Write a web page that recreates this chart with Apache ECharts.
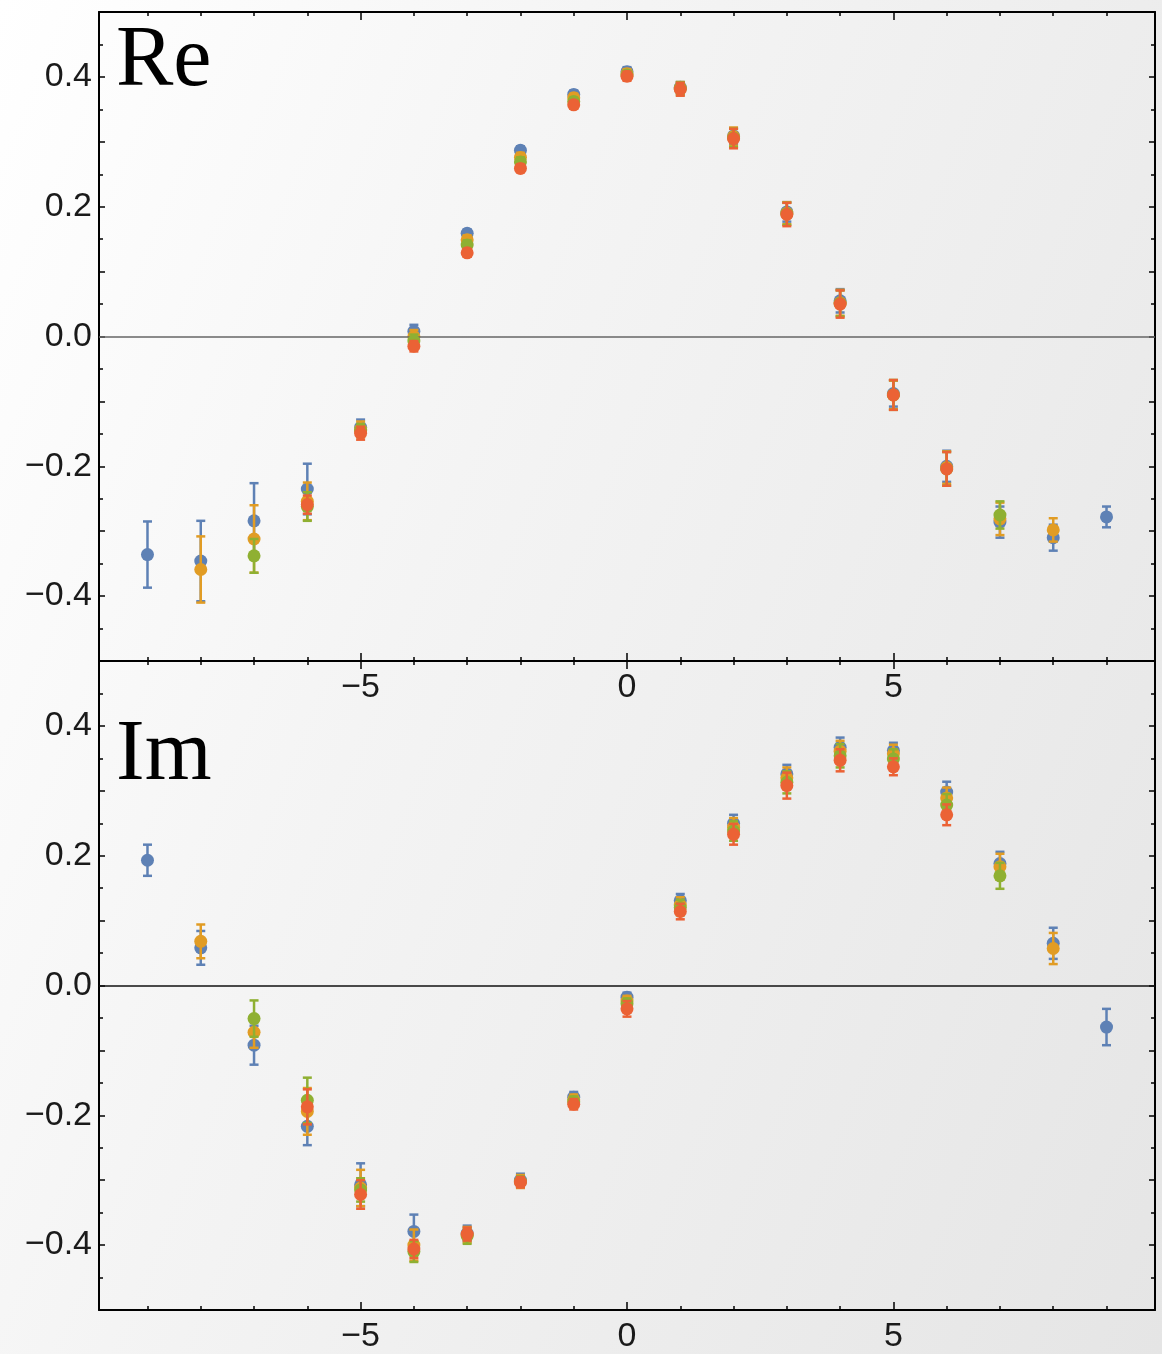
<!DOCTYPE html>
<html>
<head>
<meta charset="utf-8">
<script src="https://cdn.jsdelivr.net/npm/echarts@6/dist/echarts.min.js"></script>
<style>
html,body{margin:0;padding:0;}
body{width:1162px;height:1354px;background:linear-gradient(112deg,#ffffff 0%,#f4f4f4 38%,#e5e5e5 100%);}
#chart{width:1162px;height:1354px;}
</style>
</head>
<body>
<div id="chart"></div>
<script>
// ---- data ----
const xBlue   = [-9,-8,-7,-6,-5,-4,-3,-2,-1,0,1,2,3,4,5,6,7,8,9];
const xOrange = [-8,-7,-6,-5,-4,-3,-2,-1,0,1,2,3,4,5,6,7,8];
const xGreen  = [-7,-6,-5,-4,-3,-2,-1,0,1,2,3,4,5,6,7];
const xRed    = [-6,-5,-4,-3,-2,-1,0,1,2,3,4,5,6];

const reBlue    = [-0.336,-0.346,-0.284,-0.235,-0.140,0.008,0.159,0.287,0.373,0.408,0.384,0.309,0.192,0.055,-0.088,-0.200,-0.286,-0.310,-0.278];
const reBlueErr = [0.051,0.062,0.058,0.039,0.012,0.010,0.006,0.006,0.006,0.007,0.008,0.012,0.015,0.018,0.020,0.024,0.024,0.020,0.016];
const reOrange    = [-0.359,-0.312,-0.254,-0.143,0.000,0.149,0.276,0.368,0.405,0.383,0.308,0.190,0.052,-0.090,-0.202,-0.281,-0.298];
const reOrangeErr = [0.051,0.052,0.029,0.012,0.010,0.007,0.007,0.006,0.007,0.009,0.014,0.017,0.020,0.022,0.025,0.025,0.018];
const reGreen    = [-0.338,-0.262,-0.145,-0.007,0.141,0.269,0.362,0.403,0.382,0.306,0.189,0.051,-0.090,-0.204,-0.275];
const reGreenErr = [0.026,0.022,0.010,0.010,0.007,0.007,0.006,0.006,0.010,0.014,0.017,0.020,0.023,0.026,0.021];
const reRed    = [-0.259,-0.149,-0.015,0.129,0.259,0.357,0.401,0.381,0.305,0.188,0.050,-0.090,-0.204];
const reRedErr = [0.014,0.010,0.008,0.006,0.006,0.006,0.007,0.010,0.015,0.018,0.021,0.023,0.026];

const imBlue    = [0.193,0.058,-0.092,-0.217,-0.307,-0.379,-0.382,-0.300,-0.172,-0.018,0.131,0.250,0.326,0.367,0.362,0.298,0.188,0.065,-0.064];
const imBlueErr = [0.024,0.026,0.030,0.029,0.033,0.026,0.012,0.010,0.008,0.007,0.010,0.013,0.014,0.015,0.012,0.016,0.018,0.024,0.028];
const imOrange    = [0.068,-0.072,-0.194,-0.312,-0.400,-0.384,-0.302,-0.176,-0.024,0.124,0.244,0.320,0.361,0.357,0.289,0.183,0.057];
const imOrangeErr = [0.026,0.024,0.036,0.028,0.024,0.012,0.010,0.008,0.008,0.012,0.014,0.016,0.016,0.014,0.016,0.020,0.024];
const imGreen    = [-0.051,-0.177,-0.315,-0.410,-0.386,-0.302,-0.179,-0.028,0.120,0.238,0.313,0.354,0.349,0.278,0.169];
const imGreenErr = [0.028,0.035,0.018,0.016,0.012,0.008,0.008,0.008,0.012,0.015,0.017,0.018,0.015,0.017,0.020];
const imRed    = [-0.187,-0.322,-0.406,-0.383,-0.303,-0.183,-0.036,0.114,0.233,0.308,0.347,0.337,0.263];
const imRedErr = [0.027,0.022,0.014,0.010,0.008,0.008,0.012,0.012,0.016,0.020,0.017,0.013,0.016];

const xTickLabels = [-5, 0, 5];
const xMinorTicks = [-9,-8,-7,-6,-4,-3,-2,-1,1,2,3,4,6,7,8,9];
const yTickLabels = [-0.4, -0.2, 0, 0.2, 0.4];
const panelTitles = ['Re', 'Im'];
const X_MIN = -9.91, X_MAX = 9.91;

// ---- styling ----
const COLORS = ['#5E81B5', '#E19C24', '#8FB032', '#EB6235'];
const LABEL_FONT = 'Liberation Sans';
const LABEL_SIZE = 34;

function fmtNum(v, digits) {
  const s = Math.abs(v).toFixed(digits);
  return (v < -1e-9 ? '\u2212' : '') + s;
}
function yFmt(v) {
  return yTickLabels.some(t => Math.abs(t - v) < 1e-6) ? fmtNum(v, 1) : '';
}

function zip(xs, ys, es) { return xs.map((x, i) => [x, ys[i], es[i]]); }

function renderErr(color) {
  return function (params, api) {
    const x = api.value(0), y = api.value(1), e = api.value(2);
    const c = api.coord([x, y]);
    const t = api.coord([x, y + e]);
    const b = api.coord([x, y - e]);
    const cw = 4.5;
    const ls = { stroke: color, lineWidth: 2.5 };
    return {
      type: 'group',
      children: [
        { type: 'line', shape: { x1: c[0], y1: t[1], x2: c[0], y2: b[1] }, style: ls },
        { type: 'line', shape: { x1: c[0] - cw, y1: t[1], x2: c[0] + cw, y2: t[1] }, style: ls },
        { type: 'line', shape: { x1: c[0] - cw, y1: b[1], x2: c[0] + cw, y2: b[1] }, style: ls },
        { type: 'circle', shape: { cx: c[0], cy: c[1], r: 6.5 }, style: { fill: color } }
      ]
    };
  };
}

const panels = [
  [zip(xBlue, reBlue, reBlueErr), zip(xOrange, reOrange, reOrangeErr), zip(xGreen, reGreen, reGreenErr), zip(xRed, reRed, reRedErr)],
  [zip(xBlue, imBlue, imBlueErr), zip(xOrange, imOrange, imOrangeErr), zip(xGreen, imGreen, imGreenErr), zip(xRed, imRed, imRedErr)]
];

const grids = [
  { left: 99, width: 1056, top: 12, height: 649 },
  { left: 99, width: 1056, top: 661, height: 652 }
];

const xAxes = [], yAxes = [], series = [];
const tickStyle = { color: '#000', width: 1.5 };

grids.forEach((g, gi) => {
  // major-tick axes (bottom with labels, top without) + minor-tick axes (no line)
  ['bottom', 'top'].forEach(pos => {
    xAxes.push({
      type: 'value', gridIndex: gi, position: pos, min: X_MIN, max: X_MAX,
      axisLine: { show: true, onZero: false, lineStyle: { color: '#000', width: 2 } },
      axisTick: { show: true, inside: true, length: 8, customValues: xTickLabels, lineStyle: tickStyle },
      splitLine: { show: false },
      axisLabel: pos === 'bottom'
        ? { show: true, customValues: xTickLabels, formatter: v => fmtNum(v, 0), fontFamily: LABEL_FONT, fontSize: LABEL_SIZE, color: '#1a1a1a', margin: 10 }
        : { show: false }
    });
  });
  ['bottom', 'top'].forEach(pos => {
    xAxes.push({
      type: 'value', gridIndex: gi, position: pos, min: X_MIN, max: X_MAX,
      axisLine: { show: false, onZero: false },
      axisTick: { show: true, inside: true, length: 4, customValues: xMinorTicks, lineStyle: tickStyle },
      splitLine: { show: false },
      axisLabel: { show: false }
    });
  });
  ['left', 'right'].forEach(pos => {
    yAxes.push({
      type: 'value', gridIndex: gi, position: pos, min: -0.5, max: 0.5, interval: 0.1,
      axisLine: { show: true, onZero: false, lineStyle: { color: '#000', width: 2 } },
      axisTick: { show: true, inside: true, length: 6, lineStyle: tickStyle },
      minorTick: { show: true, splitNumber: 2, length: 4, lineStyle: tickStyle },
      splitLine: { show: false },
      axisLabel: pos === 'left'
        ? { show: true, formatter: yFmt, fontFamily: LABEL_FONT, fontSize: LABEL_SIZE, color: '#1a1a1a', margin: 7 }
        : { show: false }
    });
  });
});

panels.forEach((pdata, pi) => {
  pdata.forEach((data, si) => {
    const s = {
      type: 'custom',
      xAxisIndex: pi * 4, yAxisIndex: pi * 2,
      data: data,
      encode: { x: 0, y: 1 },
      renderItem: renderErr(COLORS[si]),
      z: 3 + si,
      clip: true
    };
    if (si === 0) {
      s.markLine = {
        silent: true, symbol: 'none', label: { show: false },
        lineStyle: { color: pi === 0 ? '#666' : '#111', width: 1.5, type: 'solid' },
        data: [{ yAxis: 0 }],
        animation: false
      };
    }
    series.push(s);
  });
});

const chart = echarts.init(document.getElementById('chart'), null, { renderer: 'canvas' });
chart.setOption({
  animation: false,
  backgroundColor: 'transparent',
  grid: grids,
  xAxis: xAxes,
  yAxis: yAxes,
  series: series,
  graphic: [
    { type: 'text', x: 116, y: 62, z: 10, style: { text: panelTitles[0], font: '86px "Liberation Serif"', fill: '#000', verticalAlign: 'middle' } },
    { type: 'text', x: 116, y: 756, z: 10, style: { text: panelTitles[1], font: '86px "Liberation Serif"', fill: '#000', verticalAlign: 'middle' } }
  ]
});
</script>
</body>
</html>
